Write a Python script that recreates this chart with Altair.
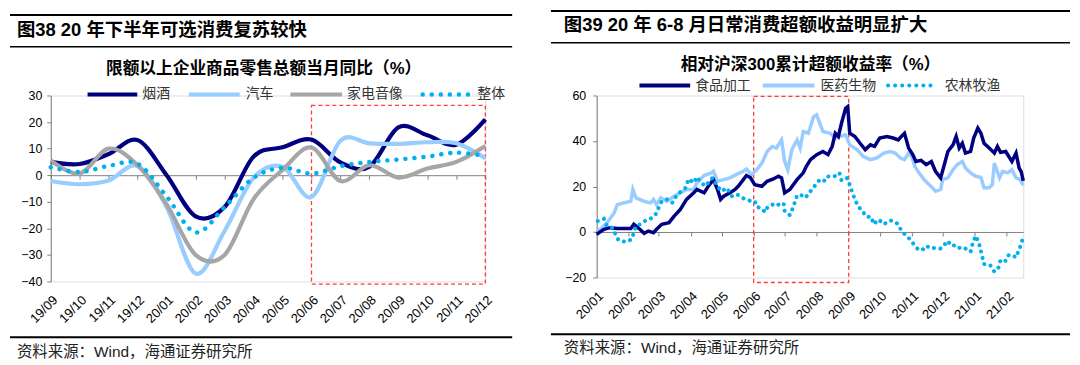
import altair as alt
import pandas as pd

# ---------------- left panel data (monthly, % yoy) ----------------
months_l = ["19/09", "19/10", "19/11", "19/12", "20/01", "20/02", "20/03", "20/04",
            "20/05", "20/06", "20/07", "20/08", "20/09", "20/10", "20/11", "20/12"]
yanjiu = [5.0, 4.2, 8.0, 13.2, 0.0, -15.5, -12.0, 7.0, 10.5, 13.4, 4.8, 3.2, 18.0, 15.0, 11.5, 21.0]
qiche = [-2.2, -3.4, -2.0, 3.4, -12.0, -37.0, -21.0, -1.0, 3.2, -8.2, 13.0, 12.0, 11.8, 12.4, 12.0, 6.4]
jiadian = [5.6, 0.6, 10.0, 3.7, -11.0, -30.0, -30.0, -9.0, 2.0, 10.4, -2.2, 3.8, -0.9, 2.5, 5.0, 11.0]
zhengti = [3.0, 1.2, 3.5, 4.3, -8.0, -21.5, -12.0, -1.0, 2.8, 0.6, 3.4, 5.0, 5.9, 7.0, 8.5, 7.2]
names_l = ["烟酒", "汽车", "家电音像", "整体"]
box_l_x = ["20/06", "20/12"]
box_l_y = [-41.0, 26.3]

# ---------------- right panel data (days since 2020-01-01, %) ----------------
r_start = "2020-01-01"
food_day = [0, 7, 13, 20, 26, 33, 36, 41, 46, 50, 55, 58, 63, 70, 75, 81, 87, 94, 97, 104,
            108, 113, 117, 120, 123, 129, 134, 137, 142, 145, 149, 153, 160, 165, 171, 176, 179, 182, 187, 194,
            200, 203, 207, 213, 219, 224, 228, 231, 234, 237, 241, 243, 245, 250, 255, 260, 265, 269, 274, 281,
            287, 292, 295, 298, 302, 306, 309, 314, 319, 324, 328, 333, 337, 340, 345, 348, 351, 354, 357, 362,
            365, 369, 372, 375, 380, 385, 388, 391, 396, 399, 402, 406, 409, 411, 413]
food_val = [-1.0, 1.2, 1.9, 1.5, 1.5, 1.5, 3.4, 1.5, -0.6, 0.4, -0.3, 1.2, 3.4, 4.1, 7.0, 9.9, 14.3, 17.2, 18.7, 17.2,
            20.1, 23.0, 18.7, 14.3, 15.7, 17.2, 18.7, 20.1, 23.0, 24.8, 23.8, 20.8, 20.1, 22.3, 23.3, 24.5, 23.8, 17.2, 18.7, 23.0,
            26.0, 28.9, 31.8, 34.0, 35.4, 34.0, 37.6, 43.4, 42.0, 47.8, 54.4, 55.1, 43.4, 42.0, 39.0, 36.2, 38.3, 37.6, 41.3, 42.0,
            41.3, 40.5, 42.0, 43.4, 36.9, 34.0, 31.0, 31.5, 29.6, 31.0, 26.7, 23.8, 30.3, 35.4, 38.3, 42.0, 36.9, 39.0, 34.7, 35.4,
            41.3, 45.7, 43.4, 39.0, 36.9, 34.7, 37.6, 35.0, 35.4, 33.2, 31.0, 34.7, 28.1, 26.5, 22.5]

pharma_day = [0, 4, 10, 17, 20, 26, 33, 35, 38, 46, 52, 55, 58, 62, 68, 75, 81, 87, 94, 97,
              104, 111, 113, 117, 123, 129, 135, 142, 145, 150, 155, 160, 165, 170, 174, 179, 182, 185, 189, 194,
              197, 200, 205, 210, 213, 216, 219, 226, 231, 236, 241, 245, 252, 258, 265, 271, 278, 284, 289, 294,
              298, 302, 305, 308, 312, 317, 322, 328, 333, 335, 340, 345, 349, 354, 357, 362, 367, 372, 375, 380,
              383, 385, 390, 393, 398, 402, 406, 410, 413]
pharma_val = [0.0, 1.5, 4.0, 8.5, 12.0, 12.8, 13.5, 18.7, 15.0, 13.5, 12.8, 14.3, 12.0, 15.0, 13.5, 15.7, 17.2, 18.7, 18.7, 21.5,
              24.8, 26.0, 26.7, 22.3, 23.0, 23.8, 25.2, 26.7, 27.7, 25.2, 27.4, 30.3, 35.4, 37.6, 36.9, 40.5, 31.0, 27.4, 36.2, 40.5,
              36.9, 44.2, 43.4, 50.7, 51.5, 47.8, 44.2, 43.4, 41.3, 42.0, 42.7, 38.3, 36.2, 33.2, 31.8, 32.5, 34.7, 35.4, 34.7, 32.5,
              31.8, 34.7, 33.2, 28.9, 26.0, 23.0, 20.8, 17.9, 18.7, 23.0, 23.8, 27.4, 29.6, 31.0, 28.1, 26.0, 24.5, 24.0, 19.4, 19.4,
              20.8, 30.3, 23.8, 26.7, 26.0, 27.4, 23.8, 23.0, 20.5]

agri_day = [1, 7, 10, 15, 21, 28, 34, 38, 42, 49, 52, 57, 63, 68, 73, 78, 86, 89, 94, 97,
            100, 105, 112, 117, 121, 126, 131, 136, 141, 145, 149, 153, 155, 160, 163, 165, 170, 174, 178, 181,
            182, 187, 190, 194, 197, 202, 207, 212, 216, 220, 223, 228, 232, 235, 237, 242, 245, 247, 250, 253,
            258, 261, 266, 268, 273, 278, 284, 287, 292, 295, 300, 304, 308, 312, 316, 319, 324, 328, 333, 337,
            340, 343, 348, 353, 357, 362, 364, 367, 370, 372, 375, 381, 385, 389, 391, 396, 399, 402, 406, 409,
            411, 413]
agri_val = [4.8, 5.8, 2.6, 1.9, -3.5, -4.4, -3.2, 2.6, 3.4, 5.5, 5.8, 7.7, 13.6, 14.3, 12.8, 16.5, 19.4, 23.3, 21.6, 24.2,
            22.3, 20.1, 23.8, 20.1, 17.9, 19.4, 15.7, 16.5, 15.0, 14.3, 13.6, 13.6, 11.1, 10.3, 8.7, 10.6, 12.1, 11.4, 12.8, 12.5,
            9.2, 7.4, 10.6, 16.0, 16.5, 15.0, 17.9, 20.8, 23.0, 22.3, 24.5, 24.2, 24.8, 26.0, 22.7, 23.8, 20.8, 17.9, 14.3, 11.4,
            8.7, 6.7, 6.6, 3.4, 5.5, 3.4, 5.1, 4.8, 3.4, 0.4, -1.7, -3.5, -6.1, -8.0, -7.6, -6.1, -7.3, -6.9, -7.3, -5.4,
            -3.9, -6.1, -5.8, -7.6, -7.3, -8.7, -5.0, -1.7, -4.7, -8.3, -14.1, -14.6, -17.5, -15.6, -12.2, -12.7, -10.1, -10.1, -11.2, -7.6,
            -5.4, -1.7]
names_r = ["食品加工", "医药生物", "农林牧渔"]
box_r_x = ["2020-06-01", "2020-09-01"]
box_r_y = [-22.2, 59.6]
ticks_r = ["2020-01-01", "2020-02-01", "2020-03-01", "2020-04-01", "2020-05-01", "2020-06-01", "2020-07-01",
           "2020-08-01", "2020-09-01", "2020-10-01", "2020-11-01", "2020-12-01", "2021-01-01", "2021-02-01"]
domain_r = ["2020-01-01", "2021-02-17"]

# ---------------- styles ----------------
NAVY = "#000080"
LBLUE = "#99ccff"
GRAY = "#a6a6a6"
CYAN = "#00b0f0"
RED = "#ff3b3b"
AXC = "#808080"
LAT = "Liberation Sans"
CJK = "Noto Sans CJK SC"
MIX = "Liberation Sans, Noto Sans CJK SC"

ONE = pd.DataFrame({"k": [0]})


def hline(x0, x1, y, color, width, dash=None, cap="butt"):
    kw = dict(color=color, strokeWidth=width, strokeCap=cap)
    if dash:
        kw["strokeDash"] = dash
    return alt.Chart(ONE).mark_rule(**kw).encode(x=alt.value(x0), x2=alt.value(x1), y=alt.value(y))


def label(text, x, y, size, weight="normal", align="left", font=MIX, color="#000000"):
    return alt.Chart(ONE).mark_text(text=text, align=align, baseline="middle", fontSize=size,
                                    fontWeight=weight, font=font, color=color).encode(
        x=alt.value(x), y=alt.value(y))


def to_dates(days):
    return (pd.Timestamp(r_start) + pd.to_timedelta(days, unit="D")).strftime("%Y-%m-%d").tolist()


# ================= LEFT PANEL =================
WL, HL = 437, 187
df_l = pd.DataFrame({
    "month": months_l * 4,
    "series": sum([[n] * len(months_l) for n in names_l], []),
    "value": yanjiu + qiche + jiadian + zhengti,
})
box_l = pd.DataFrame({"x0": [box_l_x[0]], "x1": [box_l_x[1]], "y0": [box_l_y[0]], "y1": [box_l_y[1]]})

xs_l = alt.Scale(type="point", padding=0, domain=months_l)
ys_l = alt.Scale(domain=[-40, 30], nice=False, zero=False)
y_axis_l = alt.Axis(values=list(range(-40, 31, 10)), title=None, grid=False, domainColor=AXC,
                    tickColor=AXC, tickSize=4, labelPadding=5, labelFont=LAT, labelFontSize=12.5,
                    labelColor="#000000")
zero_off_l = -(HL - HL * 30 / 70)

styles_l = {
    "烟酒": dict(color=NAVY, strokeWidth=4.2),
    "汽车": dict(color=LBLUE, strokeWidth=4.2),
    "家电音像": dict(color=GRAY, strokeWidth=4.2),
    "整体": dict(color=CYAN, strokeWidth=4.5, strokeDash=[0.1, 9], strokeCap="round"),
}

layers_l = []
for i, n in enumerate(names_l):
    if i == 0:
        xax = alt.Axis(orient="bottom", domain=False, ticks=False, labelAngle=-45, labelAlign="right",
                       labelBaseline="top", labelPadding=12, labelFont=LAT, labelFontSize=13,
                       labelOverlap=False, labelColor="#000000", title=None, grid=False)
    elif i == 1:
        xax = alt.Axis(orient="bottom", offset=zero_off_l, labels=False, ticks=True, tickSize=4,
                       tickColor=AXC, domain=True, domainColor=AXC, title=None, grid=False)
    else:
        xax = None
    layers_l.append(
        alt.Chart(df_l[df_l.series == n]).mark_line(interpolate="cardinal", **styles_l[n]).encode(
            x=alt.X("month:O", scale=xs_l, sort=months_l, axis=xax),
            y=alt.Y("value:Q", scale=ys_l, axis=y_axis_l),
        )
    )

rect_l = alt.Chart(box_l).mark_rect(fillOpacity=0, stroke=RED, strokeWidth=1.3, strokeDash=[4, 3]).encode(
    x=alt.X("x0:O", scale=xs_l, axis=None), x2="x1",
    y=alt.Y("y0:Q", scale=ys_l, axis=y_axis_l), y2="y1")

deco_l = [
    hline(-41, 464, -81, "#000000", 2),
    label("图38 20 年下半年可选消费复苏较快", -34, -66, 18.5, weight="bold"),
    hline(-41, 464, -49, "#000000", 1.5),
    label("限额以上企业商品零售总额当月同比（%）", 214, -27, 16.8, weight="bold", align="center"),
    hline(37, 87, -1, NAVY, 4),
    label("烟酒", 92, -1, 14, font=CJK, color="#333333"),
    hline(139, 190, -1, LBLUE, 4),
    label("汽车", 196, -1, 14, font=CJK, color="#333333"),
    hline(241, 293, -1, GRAY, 4),
    label("家电音像", 298, -1, 14, font=CJK, color="#333333"),
    hline(374, 420, -1, CYAN, 4.5, dash=[0.1, 9], cap="round"),
    label("整体", 429, -1, 14, font=CJK, color="#333333"),
    hline(-41, 464, 243, "#000000", 2),
    label("资料来源：Wind，海通证券研究所", -34, 258, 15.5, color="#222222"),
]

left = alt.layer(rect_l, *layers_l, *deco_l).resolve_axis(x="independent").properties(width=WL, height=HL)

# ================= RIGHT PANEL =================
WR, HR = 429, 183
df_r = pd.concat([
    pd.DataFrame({"date": to_dates(pharma_day), "value": pharma_val, "series": "医药生物"}),
    pd.DataFrame({"date": to_dates(food_day), "value": food_val, "series": "食品加工"}),
    pd.DataFrame({"date": to_dates(agri_day), "value": agri_val, "series": "农林牧渔"}),
], ignore_index=True)
box_r = pd.DataFrame({"x0": [box_r_x[0]], "x1": [box_r_x[1]], "y0": [box_r_y[0]], "y1": [box_r_y[1]]})

xs_r = alt.Scale(type="utc", domain=domain_r)
ys_r = alt.Scale(domain=[-20, 60], nice=False, zero=False)
y_axis_r = alt.Axis(values=[-20, 0, 20, 40, 60], title=None, grid=False, domainColor=AXC,
                    tickColor=AXC, tickSize=4, labelPadding=7, labelFont=LAT, labelFontSize=12.5,
                    labelColor="#000000")
zero_off_r = -(HR - HR * 60 / 80)

styles_r = {
    "医药生物": dict(color=LBLUE, strokeWidth=3.5),
    "食品加工": dict(color=NAVY, strokeWidth=3.5),
    "农林牧渔": dict(color=CYAN, strokeWidth=4, strokeDash=[0.1, 6.5], strokeCap="round"),
}
layers_r = []
for i, n in enumerate(["医药生物", "食品加工", "农林牧渔"]):
    if i == 0:
        xax = alt.Axis(orient="bottom", domain=False, ticks=False, values=ticks_r, format="%y/%m",
                       labelAngle=-45, labelAlign="right", labelBaseline="top", labelPadding=12,
                       labelOverlap=False, labelFont=LAT, labelFontSize=13, labelColor="#000000",
                       title=None, grid=False)
    elif i == 1:
        xax = alt.Axis(orient="bottom", offset=zero_off_r, labels=False, ticks=True, tickSize=4,
                       values=ticks_r, tickColor=AXC, domain=True, domainColor=AXC, title=None, grid=False)
    else:
        xax = None
    layers_r.append(
        alt.Chart(df_r[df_r.series == n]).mark_line(**styles_r[n]).encode(
            x=alt.X("date:T", scale=xs_r, axis=xax),
            y=alt.Y("value:Q", scale=ys_r, axis=y_axis_r),
        )
    )

rect_r = alt.Chart(box_r).mark_rect(fillOpacity=0, stroke=RED, strokeWidth=1.3, strokeDash=[4, 3]).encode(
    x=alt.X("x0:T", scale=xs_r, axis=None), x2="x1",
    y=alt.Y("y0:Q", scale=ys_r, axis=y_axis_r), y2="y1")

deco_r = [
    hline(-46, 476, -85, "#000000", 2),
    label("图39 20 年 6-8 月日常消费超额收益明显扩大", -33, -71, 18.5, weight="bold"),
    hline(-46, 476, -53, "#000000", 1.5),
    label("相对沪深300累计超额收益率（%）", 215, -31, 16.8, weight="bold", align="center"),
    hline(43, 94, -10, NAVY, 4),
    label("食品加工", 99, -10, 14, font=CJK, color="#333333"),
    hline(167, 219, -10, LBLUE, 4),
    label("医药生物", 225, -10, 14, font=CJK, color="#333333"),
    hline(293, 336, -10, CYAN, 4, dash=[0.1, 7], cap="round"),
    label("农林牧渔", 350, -10, 14, font=CJK, color="#333333"),
    hline(-46, 476, 240, "#000000", 2),
    label("资料来源：Wind，海通证券研究所", -33, 254, 15.5, color="#222222"),
]

right = alt.layer(rect_r, *layers_r, *deco_r).resolve_axis(x="independent").properties(width=WR, height=HR)

chart = alt.hconcat(left, right, spacing=35).properties(padding=0).configure_view(
    stroke=None).configure(background="white", font=LAT)

chart.save("out.html", embed_options={"renderer": "svg", "actions": False})
